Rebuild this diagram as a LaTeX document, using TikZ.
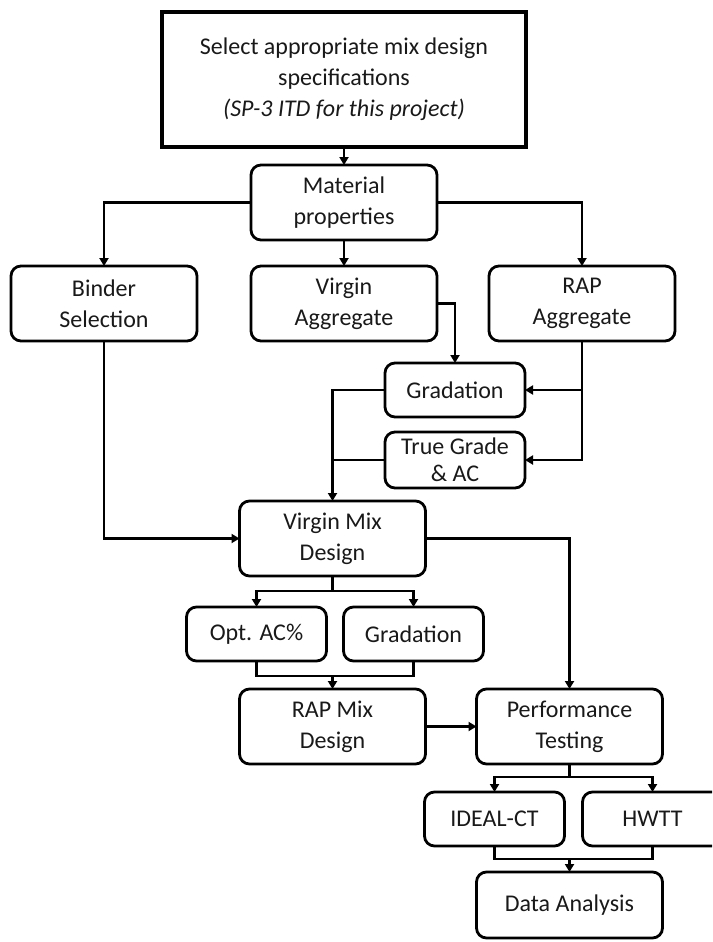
\documentclass[tikz,border=0pt]{standalone}
\usepackage{fontspec}
\setmainfont{Carlito}
\usepackage{tikz}
\usetikzlibrary{arrows.meta,positioning}

\begin{document}
\begin{tikzpicture}[
  x=1pt,y=-1pt,
  font=\fontsize{24}{31}\selectfont,
  every node/.style={text=black!90},
  specbox/.style={draw,line width=3.2pt,align=center,minimum width=364pt,minimum height=135pt,inner sep=0pt,outer sep=0pt},
  box/.style={draw,rounded corners=10pt,line width=2.8pt,align=center,minimum width=186pt,minimum height=75pt,inner sep=0pt,outer sep=0pt},
  smallbox/.style={box,minimum width=140pt,minimum height=54pt},
  arr/.style={-{Triangle[length=8pt,width=9pt]},line width=2.5pt},
  link/.style={line width=2.5pt}
]
\path[clip,use as bounding box] (0,0) rectangle (712,942);

\node[specbox] (spec) at (344,79.5) {Select appropriate mix design\\specifications\\\textit{(SP-3 ITD for this project)}};
\node[box,below=18pt of spec] (mat) {Material\\properties};
\node[box,below=26pt of mat] (vagg) {Virgin\\Aggregate};
\node[box,left=54pt of vagg] (binder) {Binder\\Selection};
\node[box,right=52pt of vagg] (ragg) {RAP\\Aggregate};
\node[smallbox,below right=22pt and 134pt of vagg.south west] (grad) {Gradation};
\node[smallbox,below=15pt of grad,minimum height=56pt,font=\fontsize{24}{27}\selectfont] (tg) {True Grade\\\& AC};
\node[box,below=160pt of vagg,xshift=-11.5pt] (vmix) {Virgin Mix\\Design};
\node[smallbox,below=31pt of vmix,xshift=-76pt] (opt) {Opt. AC\%};
\node[smallbox,right=17pt of opt] (grad2) {Gradation};
\node[box,below=113pt of vmix] (rmix) {RAP Mix\\Design};
\node[box,right=51pt of rmix] (perf) {Performance\\Testing};
\node[smallbox,below=28pt of perf,xshift=-75pt] (ideal) {IDEAL-CT};
\node[smallbox,right=18pt of ideal] (hwtt) {HWTT};
\node[box,below=108pt of perf,minimum height=66pt] (data) {Data Analysis};

\draw[arr] (spec) -- (mat);
\draw[arr] (mat) -| (binder);
\draw[arr] (mat) -- (vagg);
\draw[arr] (mat) -| (ragg);
\draw[arr] (vagg) -| (grad);
\draw[arr] (ragg) |- (tg);
\draw[arr] (ragg.south |- grad.east) -- (grad);
\draw[arr] (grad) -| (vmix);
\draw[link] (tg) -- (tg -| vmix.north);
\draw[arr] (binder) |- (vmix);
\draw[arr] (vmix) -| (perf);
\draw[link] (vmix) -- ([yshift=-15pt]vmix.south);
\draw[arr] ([yshift=-15pt]vmix.south) -| (opt);
\draw[arr] ([yshift=-15pt]vmix.south) -| (grad2);
\draw[link] (opt) |- ([yshift=13pt]rmix.north) -| (grad2);
\draw[arr] ([yshift=13pt]rmix.north) -- (rmix);
\draw[arr] (rmix) -- (perf);
\draw[link] (perf) -- ([yshift=-13pt]perf.south);
\draw[arr] ([yshift=-13pt]perf.south) -| (ideal);
\draw[arr] ([yshift=-13pt]perf.south) -| (hwtt);
\draw[link] (ideal) |- ([yshift=13pt]data.north) -| (hwtt);
\draw[arr] ([yshift=13pt]data.north) -- (data);
\end{tikzpicture}
\end{document}
